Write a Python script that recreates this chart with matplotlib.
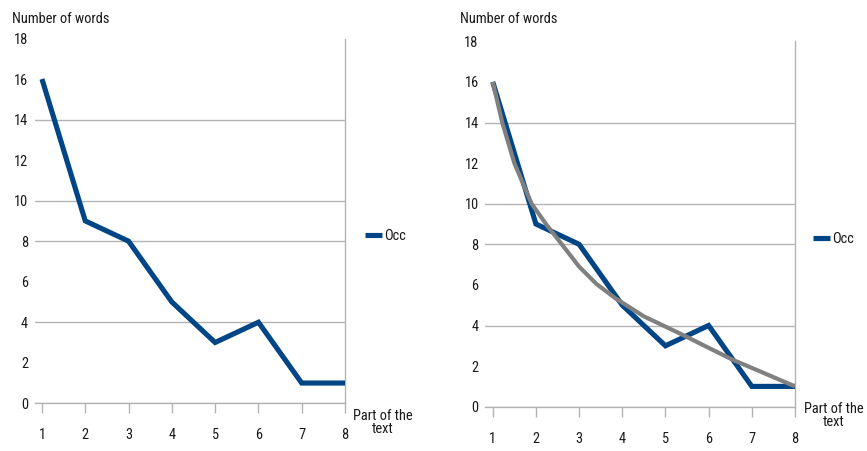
import matplotlib
matplotlib.use("Agg")
import matplotlib.pyplot as plt

# ---- data ----
parts = [1, 2, 3, 4, 5, 6, 7, 8]
occ = [16, 9, 8, 5, 3, 4, 1, 1]
# trend curve
trend_x = [1, 1.22, 1.5, 1.9, 2.25, 2.6, 3, 3.4, 3.84, 4.5, 5.34, 6, 6.57, 7.3, 8]
trend_y = [16, 14, 12.0, 10, 8.95, 8, 6.9, 6.05, 5.34, 4.45, 3.6, 2.9, 2.3, 1.64, 1.0]
y_ticks = [0, 2, 4, 6, 8, 10, 12, 14, 16, 18]
grid_levels = [0, 4, 8, 10, 14]
series_name = "Occ"
y_title = "Number of words"
x_title = "Part of the\ntext"

FONT = ['Roboto Condensed', 'Archivo Narrow', 'Liberation Sans', 'DejaVu Sans']
plt.rcParams['font.family'] = FONT
TXT = '#1a1a1a'
BLUE = '#004586'
GRAY = '#808080'
GRID = '#b3b3b3'

W, H = 867, 451
fig = plt.figure(figsize=(W / 100, H / 100), dpi=100)
fig.patch.set_facecolor('white')

# choose a font size so that the title is about as wide as in the reference
probe = fig.text(0, 0, y_title, fontsize=12)
r = fig.canvas.get_renderer()
wpx = probe.get_window_extent(r).width
probe.remove()
FS = min(12.5, 12 * 98.0 / wpx)


def px(x, y):
    return x / W, 1 - y / H


def make_axes(left, right, top, bottom):
    ax = fig.add_axes([left / W, 1 - bottom / H, (right - left) / W, (bottom - top) / H])
    ax.set_xlim(0.83, 8)
    ax.set_ylim(0, 18)
    for s in ['left', 'top']:
        ax.spines[s].set_visible(False)
    for s in ['bottom', 'right']:
        ax.spines[s].set_color(GRID)
        ax.spines[s].set_linewidth(1.0)
    ax.set_xticks(parts)
    ax.set_yticks(y_ticks)
    ax.tick_params(axis='x', length=7, width=1.0, color=GRID, pad=11,
                   labelsize=FS, labelcolor=TXT)
    ax.tick_params(axis='y', length=0, pad=4.8, labelsize=FS, labelcolor=TXT)
    for t in ax.xaxis.get_major_ticks():
        if t.get_loc() in (1, 3, 5, 7):
            t.tick1line.set_visible(False)
    for g in grid_levels:
        ax.axhline(g, color=GRID, lw=1.0, zorder=1)
    return ax


ax1 = make_axes(34.6, 345, 38.5, 403.3)
ax2 = make_axes(485.4, 795, 41.3, 406.7)

l1, = ax1.plot(parts, occ, color=BLUE, lw=3.7, solid_capstyle='butt',
               solid_joinstyle='miter', zorder=3, label=series_name)
l2, = ax2.plot(parts, occ, color=BLUE, lw=3.7, solid_capstyle='butt',
               solid_joinstyle='miter', zorder=3, label=series_name)
ax2.plot(trend_x, trend_y, color=GRAY, lw=3.0, solid_capstyle='butt',
         solid_joinstyle='round', zorder=4)

# axis titles
fig.text(*px(12.5, 23), y_title, fontsize=FS, color=TXT, ha='left', va='baseline')
fig.text(*px(460, 23), y_title, fontsize=FS, color=TXT, ha='left', va='baseline')
fig.text(*px(383, 409), x_title, fontsize=FS, color=TXT, ha='center', va='top',
         linespacing=0.95, multialignment='center')
fig.text(*px(834, 402), x_title, fontsize=FS, color=TXT, ha='center', va='top',
         linespacing=0.95, multialignment='center')

# legends
for ax, ln, (lx, ly) in [(ax1, l1, (365, 236)), (ax2, l2, (813, 239))]:
    ax.legend(handles=[ln], loc='center left', bbox_to_anchor=px(lx, ly),
              bbox_transform=fig.transFigure, frameon=False, fontsize=FS,
              handlelength=1.15, handletextpad=0.2, borderpad=0, borderaxespad=0,
              labelcolor=TXT)

fig.savefig('out.png', dpi=100, facecolor='white')
